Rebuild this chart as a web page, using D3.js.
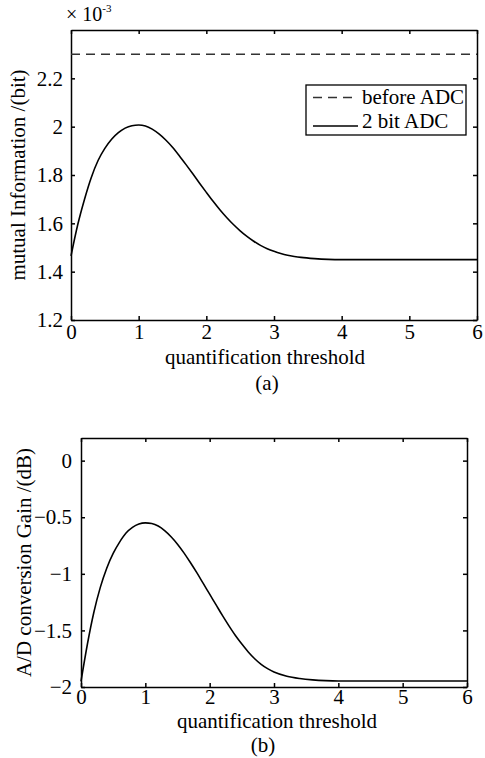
<!DOCTYPE html>
<html>
<head>
<meta charset="utf-8">
<script src="https://cdn.jsdelivr.net/npm/d3@7"></script>
<style>
  body { margin: 0; background: #fff; }
  text { font-family: "Liberation Serif", "Times New Roman", serif; fill: #000; }
</style>
</head>
<body>
<div id="chart"></div>
<script>
// panel (a): mutual information (x 10^-3 bit) vs quantification threshold
const thrA = [0, 0.1, 0.2, 0.3, 0.4, 0.5, 0.6, 0.7, 0.8, 0.9, 1.0, 1.1, 1.2, 1.3, 1.4, 1.5, 1.6, 1.7, 1.8, 1.9, 2.0, 2.1, 2.2, 2.3, 2.4, 2.5, 2.6, 2.7, 2.8, 2.9, 3.0, 3.1, 3.2, 3.3, 3.4, 3.6, 3.8, 4.0, 5.0, 6.0];
const infoAdc = [1.465, 1.595, 1.70, 1.79, 1.86, 1.91, 1.948, 1.975, 1.994, 2.004, 2.007, 2.003, 1.99, 1.97, 1.945, 1.915, 1.88, 1.843, 1.805, 1.766, 1.728, 1.691, 1.656, 1.624, 1.595, 1.569, 1.546, 1.526, 1.509, 1.495, 1.484, 1.475, 1.468, 1.463, 1.459, 1.454, 1.451, 1.45, 1.45, 1.45];
const infoBefore = 2.3;

// panel (b): A/D conversion gain (dB) vs quantification threshold
const thrB = [0, 0.1, 0.2, 0.3, 0.4, 0.5, 0.6, 0.7, 0.8, 0.9, 1.0, 1.1, 1.2, 1.3, 1.4, 1.5, 1.6, 1.7, 1.8, 1.9, 2.0, 2.1, 2.2, 2.3, 2.4, 2.5, 2.6, 2.7, 2.8, 2.9, 3.0, 3.2, 3.4, 3.6, 3.8, 4.0, 5.0, 6.0];
const gainDb = [-1.95, -1.62, -1.34, -1.12, -0.95, -0.82, -0.72, -0.64, -0.59, -0.56, -0.55, -0.556, -0.578, -0.618, -0.672, -0.738, -0.815, -0.9, -0.99, -1.085, -1.18, -1.275, -1.37, -1.46, -1.545, -1.62, -1.69, -1.75, -1.80, -1.838, -1.868, -1.905, -1.925, -1.937, -1.944, -1.947, -1.947, -1.947];

const xTicks = [0, 1, 2, 3, 4, 5, 6];
const yTicksA = [1.2, 1.4, 1.6, 1.8, 2, 2.2];
const yTicksB = [-2, -1.5, -1, -0.5, 0];
const legendLabels = ["before ADC", "2 bit ADC"];

const FS = "21px";

const svg = d3.select("#chart").append("svg")
  .attr("width", 485).attr("height", 758);

function panel(opt) {
  const x = d3.scaleLinear().domain([0, 6]).range([opt.left, opt.right]);
  const y = d3.scaleLinear().domain(opt.yDomain).range([opt.bottom, opt.top]);
  const fmt = d3.format("~g");
  const g = svg.append("g");

  const styleAxis = (sel) => {
    sel.selectAll("path").attr("stroke", "#000").attr("stroke-width", 1.5);
    sel.selectAll("line").attr("stroke", "#000").attr("stroke-width", 1.5);
    sel.selectAll("text").style("font-size", FS).attr("fill", "#000")
      .style("font-family", "Liberation Serif, serif");
  };

  g.append("g").attr("transform", `translate(0,${opt.bottom})`)
    .call(d3.axisBottom(x).tickValues(xTicks).tickFormat(fmt).tickSize(-4).tickSizeOuter(0).tickPadding(opt.xPad))
    .call(styleAxis);
  g.append("g").attr("transform", `translate(0,${opt.top})`)
    .call(d3.axisTop(x).tickValues(xTicks).tickFormat("").tickSize(-4).tickSizeOuter(0))
    .call(styleAxis);
  g.append("g").attr("transform", `translate(${opt.left},0)`)
    .call(d3.axisLeft(y).tickValues(opt.yTicks).tickFormat(fmt).tickSize(-4).tickSizeOuter(0).tickPadding(opt.yPad))
    .call(styleAxis);
  g.append("g").attr("transform", `translate(${opt.right},0)`)
    .call(d3.axisRight(y).tickValues(opt.yTicks).tickFormat("").tickSize(-4).tickSizeOuter(0))
    .call(styleAxis);

  g.append("text").attr("x", opt.xLabelX).attr("y", opt.xLabelY)
    .attr("text-anchor", "middle").style("font-size", FS)
    .text("quantification threshold");
  g.append("text").attr("x", opt.capX).attr("y", opt.capY)
    .attr("text-anchor", "middle").style("font-size", FS)
    .text(opt.caption);
  g.append("text")
    .attr("transform", `translate(${opt.yLabelX},${(opt.top + opt.bottom) / 2}) rotate(-90)`)
    .attr("text-anchor", "middle").style("font-size", FS)
    .text(opt.yLabel);

  return { g, x, y };
}

// (a)
const a = panel({
  left: 71, right: 477, top: 30, bottom: 320,
  yDomain: [1.2, 2.4], yTicks: yTicksA, xPad: 4, yPad: 8,
  xLabelX: 265, xLabelY: 364, capX: 267, capY: 390, caption: "(a)",
  yLabelX: 25, yLabel: "mutual Information /(bit)"
});

a.g.append("line")
  .attr("x1", a.x(0)).attr("x2", a.x(6))
  .attr("y1", a.y(infoBefore)).attr("y2", a.y(infoBefore))
  .attr("stroke", "#333").attr("stroke-width", 1.5).attr("stroke-dasharray", "9,6");

a.g.append("path")
  .datum(thrA.map((t, i) => [t, infoAdc[i]]))
  .attr("fill", "none").attr("stroke", "#000").attr("stroke-width", 1.6)
  .attr("d", d3.line().x(d => a.x(d[0])).y(d => a.y(d[1])).curve(d3.curveMonotoneX));

// exponent
const expo = a.g.append("text").attr("x", 66).attr("y", 21).style("font-size", "20px");
expo.append("tspan").text("\u00d7 10");
expo.append("tspan").attr("dy", -9).style("font-size", "11px").text("-3");

// legend
const leg = a.g.append("g");
leg.append("rect").attr("x", 306).attr("y", 85).attr("width", 160).attr("height", 50)
  .attr("fill", "#fff").attr("stroke", "#000").attr("stroke-width", 1.3);
leg.append("line").attr("x1", 313).attr("x2", 358).attr("y1", 97.5).attr("y2", 97.5)
  .attr("stroke", "#333").attr("stroke-width", 1.5).attr("stroke-dasharray", "9,6");
leg.append("line").attr("x1", 313).attr("x2", 358).attr("y1", 126).attr("y2", 126)
  .attr("stroke", "#000").attr("stroke-width", 1.6);
leg.selectAll("text.lab").data(legendLabels).enter().append("text")
  .attr("class", "lab")
  .attr("x", 362).attr("y", (d, i) => 104 + i * 24)
  .style("font-size", FS).text(d => d);

// (b)
const b = panel({
  left: 81, right: 467, top: 438, bottom: 687,
  yDomain: [-2, 0.2], yTicks: yTicksB, xPad: 2, yPad: 9,
  xLabelX: 277, xLabelY: 728, capX: 263, capY: 752, caption: "(b)",
  yLabelX: 31, yLabel: "A/D conversion Gain /(dB)"
});

b.g.append("path")
  .datum(thrB.map((t, i) => [t, gainDb[i]]))
  .attr("fill", "none").attr("stroke", "#000").attr("stroke-width", 1.6)
  .attr("d", d3.line().x(d => b.x(d[0])).y(d => b.y(d[1])).curve(d3.curveMonotoneX));
</script>
</body>
</html>
